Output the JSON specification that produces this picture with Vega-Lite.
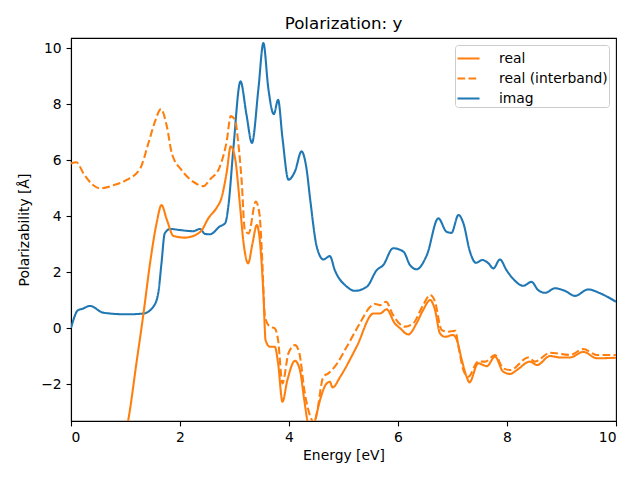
{
  "$schema": "https://vega.github.io/schema/vega-lite/v6.json",
  "autosize": "none",
  "width": 545,
  "height": 383,
  "padding": {"left": 71, "top": 38, "right": 24, "bottom": 59},
  "title": {"text": "Polarization: y", "fontSize": 16.67, "fontWeight": "normal", "font": "DejaVu Sans", "color": "black", "offset": 5},
  "config": {
    "view": {"stroke": "black", "strokeWidth": 1.1},
    "font": "DejaVu Sans",
    "axis": {"grid": false, "domainColor": "black", "domainWidth": 1.1, "tickColor": "black", "tickWidth": 1.1, "tickSize": 4.9, "labelFontSize": 13.89, "labelColor": "black", "labelFont": "DejaVu Sans", "titleFont": "DejaVu Sans", "titleFontSize": 13.89, "titleFontWeight": "normal", "titleColor": "black", "labelPadding": 4.9,
      "labelExpr": "datum.value < 0 ? '\u2212' + format(-datum.value, 'd') : datum.label"}
  },
  "data": {"values": [
    {"x":0,"y":0,"s":"imag"},{"x":0.13,"y":0.64,"s":"imag"},{"x":0.2,"y":0.68,"s":"imag"},{"x":0.35,"y":0.79,"s":"imag"},{"x":0.59,"y":0.55,"s":"imag"},{"x":1.02,"y":0.49,"s":"imag"},{"x":1.33,"y":0.52,"s":"imag"},{"x":1.51,"y":0.76,"s":"imag"},{"x":1.6,"y":1.24,"s":"imag"},{"x":1.66,"y":2.31,"s":"imag"},{"x":1.72,"y":3.38,"s":"imag"},{"x":1.82,"y":3.54,"s":"imag"},{"x":2.0,"y":3.5,"s":"imag"},{"x":2.24,"y":3.46,"s":"imag"},{"x":2.37,"y":3.54,"s":"imag"},{"x":2.46,"y":3.36,"s":"imag"},{"x":2.55,"y":3.35,"s":"imag"},{"x":2.73,"y":3.63,"s":"imag"},{"x":2.83,"y":3.75,"s":"imag"},{"x":2.89,"y":4.4,"s":"imag"},{"x":2.98,"y":6.43,"s":"imag"},{"x":3.11,"y":8.81,"s":"imag"},{"x":3.22,"y":7.62,"s":"imag"},{"x":3.32,"y":6.61,"s":"imag"},{"x":3.44,"y":8.57,"s":"imag"},{"x":3.53,"y":10.18,"s":"imag"},{"x":3.62,"y":8.57,"s":"imag"},{"x":3.72,"y":7.64,"s":"imag"},{"x":3.8,"y":8.15,"s":"imag"},{"x":3.88,"y":6.79,"s":"imag"},{"x":3.99,"y":5.3,"s":"imag"},{"x":4.11,"y":5.6,"s":"imag"},{"x":4.23,"y":6.31,"s":"imag"},{"x":4.32,"y":5.71,"s":"imag"},{"x":4.39,"y":4.57,"s":"imag"},{"x":4.51,"y":2.9,"s":"imag"},{"x":4.63,"y":2.45,"s":"imag"},{"x":4.75,"y":2.57,"s":"imag"},{"x":4.84,"y":2.07,"s":"imag"},{"x":5.06,"y":1.48,"s":"imag"},{"x":5.21,"y":1.33,"s":"imag"},{"x":5.43,"y":1.48,"s":"imag"},{"x":5.61,"y":2.07,"s":"imag"},{"x":5.73,"y":2.25,"s":"imag"},{"x":5.91,"y":2.85,"s":"imag"},{"x":6.1,"y":2.73,"s":"imag"},{"x":6.22,"y":2.25,"s":"imag"},{"x":6.34,"y":2.1,"s":"imag"},{"x":6.53,"y":2.61,"s":"imag"},{"x":6.74,"y":3.92,"s":"imag"},{"x":6.89,"y":3.44,"s":"imag"},{"x":6.98,"y":3.4,"s":"imag"},{"x":7.11,"y":4.04,"s":"imag"},{"x":7.2,"y":3.74,"s":"imag"},{"x":7.32,"y":2.73,"s":"imag"},{"x":7.43,"y":2.33,"s":"imag"},{"x":7.55,"y":2.43,"s":"imag"},{"x":7.66,"y":2.31,"s":"imag"},{"x":7.75,"y":2.13,"s":"imag"},{"x":7.87,"y":2.45,"s":"imag"},{"x":7.99,"y":2.07,"s":"imag"},{"x":8.12,"y":1.74,"s":"imag"},{"x":8.3,"y":1.51,"s":"imag"},{"x":8.45,"y":1.65,"s":"imag"},{"x":8.57,"y":1.36,"s":"imag"},{"x":8.7,"y":1.26,"s":"imag"},{"x":8.88,"y":1.42,"s":"imag"},{"x":9.06,"y":1.33,"s":"imag"},{"x":9.25,"y":1.15,"s":"imag"},{"x":9.49,"y":1.38,"s":"imag"},{"x":9.71,"y":1.24,"s":"imag"},{"x":10,"y":0.94,"s":"imag"},

    {"x":0.97,"y":-4.0,"s":"real"},{"x":1.05,"y":-3.29,"s":"real"},{"x":1.2,"y":-1.26,"s":"real"},{"x":1.33,"y":0.52,"s":"real"},{"x":1.45,"y":2.31,"s":"real"},{"x":1.57,"y":3.74,"s":"real"},{"x":1.66,"y":4.39,"s":"real"},{"x":1.76,"y":3.86,"s":"real"},{"x":1.88,"y":3.29,"s":"real"},{"x":2.09,"y":3.23,"s":"real"},{"x":2.28,"y":3.32,"s":"real"},{"x":2.4,"y":3.5,"s":"real"},{"x":2.52,"y":3.92,"s":"real"},{"x":2.67,"y":4.29,"s":"real"},{"x":2.76,"y":4.64,"s":"real"},{"x":2.86,"y":5.6,"s":"real"},{"x":2.93,"y":6.49,"s":"real"},{"x":3.01,"y":6.07,"s":"real"},{"x":3.1,"y":4.4,"s":"real"},{"x":3.16,"y":3.14,"s":"real"},{"x":3.25,"y":2.31,"s":"real"},{"x":3.33,"y":3.02,"s":"real"},{"x":3.41,"y":3.68,"s":"real"},{"x":3.47,"y":3.02,"s":"real"},{"x":3.53,"y":1.24,"s":"real"},{"x":3.57,"y":-0.43,"s":"real"},{"x":3.65,"y":-0.67,"s":"real"},{"x":3.74,"y":-0.67,"s":"real"},{"x":3.8,"y":-1.26,"s":"real"},{"x":3.88,"y":-2.63,"s":"real"},{"x":3.97,"y":-1.86,"s":"real"},{"x":4.11,"y":-1.17,"s":"real"},{"x":4.2,"y":-1.5,"s":"real"},{"x":4.28,"y":-2.57,"s":"real"},{"x":4.34,"y":-3.34,"s":"real"},{"x":4.41,"y":-3.8,"s":"real"},{"x":4.48,"y":-3.3,"s":"real"},{"x":4.57,"y":-2.57,"s":"real"},{"x":4.69,"y":-1.98,"s":"real"},{"x":4.75,"y":-1.92,"s":"real"},{"x":4.8,"y":-2.12,"s":"real"},{"x":4.94,"y":-1.74,"s":"real"},{"x":5.24,"y":-0.67,"s":"real"},{"x":5.55,"y":0.52,"s":"real"},{"x":5.67,"y":0.52,"s":"real"},{"x":5.79,"y":0.67,"s":"real"},{"x":5.94,"y":0.17,"s":"real"},{"x":6.04,"y":-0.01,"s":"real"},{"x":6.19,"y":-0.23,"s":"real"},{"x":6.34,"y":0.17,"s":"real"},{"x":6.46,"y":0.64,"s":"real"},{"x":6.59,"y":1.0,"s":"real"},{"x":6.68,"y":0.64,"s":"real"},{"x":6.77,"y":-0.19,"s":"real"},{"x":6.86,"y":-0.31,"s":"real"},{"x":7.01,"y":-0.25,"s":"real"},{"x":7.08,"y":-0.43,"s":"real"},{"x":7.17,"y":-1.14,"s":"real"},{"x":7.26,"y":-1.74,"s":"real"},{"x":7.31,"y":-1.94,"s":"real"},{"x":7.47,"y":-1.26,"s":"real"},{"x":7.63,"y":-1.36,"s":"real"},{"x":7.78,"y":-1.02,"s":"real"},{"x":7.93,"y":-1.56,"s":"real"},{"x":8.06,"y":-1.64,"s":"real"},{"x":8.18,"y":-1.5,"s":"real"},{"x":8.42,"y":-1.2,"s":"real"},{"x":8.55,"y":-1.32,"s":"real"},{"x":8.79,"y":-1.0,"s":"real"},{"x":8.97,"y":-1.05,"s":"real"},{"x":9.16,"y":-1.05,"s":"real"},{"x":9.4,"y":-0.85,"s":"real"},{"x":9.65,"y":-1.08,"s":"real"},{"x":10,"y":-1.06,"s":"real"},

    {"x":0,"y":5.88,"s":"real (interband)"},{"x":0.1,"y":5.92,"s":"real (interband)"},{"x":0.23,"y":5.52,"s":"real (interband)"},{"x":0.41,"y":5.1,"s":"real (interband)"},{"x":0.53,"y":4.99,"s":"real (interband)"},{"x":0.78,"y":5.1,"s":"real (interband)"},{"x":1.02,"y":5.29,"s":"real (interband)"},{"x":1.27,"y":5.7,"s":"real (interband)"},{"x":1.42,"y":6.6,"s":"real (interband)"},{"x":1.54,"y":7.37,"s":"real (interband)"},{"x":1.65,"y":7.82,"s":"real (interband)"},{"x":1.76,"y":7.19,"s":"real (interband)"},{"x":1.85,"y":6.24,"s":"real (interband)"},{"x":2.03,"y":5.64,"s":"real (interband)"},{"x":2.24,"y":5.23,"s":"real (interband)"},{"x":2.43,"y":5.07,"s":"real (interband)"},{"x":2.55,"y":5.31,"s":"real (interband)"},{"x":2.73,"y":5.76,"s":"real (interband)"},{"x":2.86,"y":6.71,"s":"real (interband)"},{"x":2.93,"y":7.57,"s":"real (interband)"},{"x":3.01,"y":7.43,"s":"real (interband)"},{"x":3.07,"y":6.6,"s":"real (interband)"},{"x":3.13,"y":5.29,"s":"real (interband)"},{"x":3.19,"y":3.5,"s":"real (interband)"},{"x":3.26,"y":3.38,"s":"real (interband)"},{"x":3.39,"y":4.52,"s":"real (interband)"},{"x":3.46,"y":4.05,"s":"real (interband)"},{"x":3.5,"y":2.79,"s":"real (interband)"},{"x":3.56,"y":0.4,"s":"real (interband)"},{"x":3.65,"y":0.05,"s":"real (interband)"},{"x":3.74,"y":-0.01,"s":"real (interband)"},{"x":3.8,"y":-0.43,"s":"real (interband)"},{"x":3.88,"y":-1.98,"s":"real (interband)"},{"x":3.99,"y":-0.9,"s":"real (interband)"},{"x":4.11,"y":-0.61,"s":"real (interband)"},{"x":4.19,"y":-0.9,"s":"real (interband)"},{"x":4.29,"y":-2.33,"s":"real (interband)"},{"x":4.42,"y":-3.29,"s":"real (interband)"},{"x":4.46,"y":-3.4,"s":"real (interband)"},{"x":4.51,"y":-3.05,"s":"real (interband)"},{"x":4.63,"y":-1.74,"s":"real (interband)"},{"x":4.72,"y":-1.62,"s":"real (interband)"},{"x":4.84,"y":-1.38,"s":"real (interband)"},{"x":5.06,"y":-0.67,"s":"real (interband)"},{"x":5.3,"y":0.17,"s":"real (interband)"},{"x":5.49,"y":0.76,"s":"real (interband)"},{"x":5.58,"y":0.86,"s":"real (interband)"},{"x":5.67,"y":0.82,"s":"real (interband)"},{"x":5.78,"y":0.94,"s":"real (interband)"},{"x":5.91,"y":0.46,"s":"real (interband)"},{"x":6.13,"y":0.05,"s":"real (interband)"},{"x":6.28,"y":0.17,"s":"real (interband)"},{"x":6.46,"y":0.82,"s":"real (interband)"},{"x":6.59,"y":1.18,"s":"real (interband)"},{"x":6.68,"y":0.94,"s":"real (interband)"},{"x":6.8,"y":-0.07,"s":"real (interband)"},{"x":6.92,"y":-0.13,"s":"real (interband)"},{"x":7.05,"y":-0.1,"s":"real (interband)"},{"x":7.11,"y":-0.67,"s":"real (interband)"},{"x":7.2,"y":-1.5,"s":"real (interband)"},{"x":7.29,"y":-1.74,"s":"real (interband)"},{"x":7.47,"y":-1.2,"s":"real (interband)"},{"x":7.6,"y":-1.2,"s":"real (interband)"},{"x":7.78,"y":-0.96,"s":"real (interband)"},{"x":7.93,"y":-1.44,"s":"real (interband)"},{"x":8.06,"y":-1.5,"s":"real (interband)"},{"x":8.39,"y":-1.05,"s":"real (interband)"},{"x":8.51,"y":-1.2,"s":"real (interband)"},{"x":8.79,"y":-0.88,"s":"real (interband)"},{"x":9.16,"y":-0.96,"s":"real (interband)"},{"x":9.4,"y":-0.75,"s":"real (interband)"},{"x":9.65,"y":-0.96,"s":"real (interband)"},{"x":10,"y":-0.96,"s":"real (interband)"}
  ]},
  "mark": {"type": "line", "clip": true, "strokeWidth": 2.08, "interpolate": "monotone"},
  "encoding": {
    "x": {"field": "x", "type": "quantitative", "scale": {"domain": [0, 10], "nice": false, "zero": false},
      "axis": {"title": "Energy [eV]", "values": [0, 2, 4, 6, 8, 10], "titlePadding": 4}},
    "y": {"field": "y", "type": "quantitative", "scale": {"domain": [-3.32, 10.36], "nice": false, "zero": false},
      "axis": {"title": "Polarizability [Å]", "values": [-2, 0, 2, 4, 6, 8, 10], "titlePadding": 9}},
    "color": {"field": "s", "type": "nominal",
      "scale": {"domain": ["real", "real (interband)", "imag"], "range": ["#ff7f0e", "#ff7f0e", "#1f77b4"]},
      "legend": {"title": null, "orient": "top-right", "offset": 7, "symbolType": "stroke", "symbolSize": 484, "symbolStrokeWidth": 2.08,
        "labelFontSize": 13.89, "labelFont": "DejaVu Sans", "labelColor": "black", "strokeColor": "#cccccc", "fillColor": "white",
        "padding": 1, "cornerRadius": 3, "rowPadding": -1.5, "labelOffset": 18}},
    "strokeDash": {"field": "s", "type": "nominal",
      "scale": {"domain": ["real", "real (interband)", "imag"], "range": [[1, 0], [7.7, 3.33], [1, 0]]},
      "legend": {"title": null}}
  }
}
